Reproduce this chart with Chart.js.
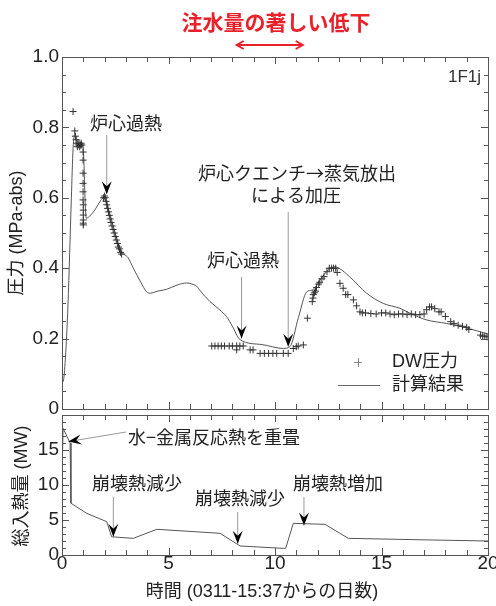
<!DOCTYPE html>
<html><head><meta charset="utf-8">
<script src="https://cdn.jsdelivr.net/npm/chart.js@4"></script>
<style>
html,body{margin:0;padding:0;background:#fff;}
#wrap{position:relative;width:496px;height:606px;}
canvas{position:absolute;left:0;top:0;}
</style></head>
<body><div id="wrap"><canvas id="c1" width="496" height="606"></canvas><canvas id="c2" width="496" height="606"></canvas></div>
<script>
// ---- data (days since 03/11 15:37) ----
const dwDays = [0.52,0.6,0.63,0.66,0.7,0.72,0.76,0.8,0.83,0.87,0.9,0.93,0.99,0.99,0.99,0.99,0.99,0.99,1.0,1.0,1.0,1.0,1.0,1.0,
 1.95,2.0,2.03,2.07,2.1,2.14,2.18,2.22,2.26,2.3,2.35,2.4,2.45,2.5,2.55,2.6,2.65,2.7,2.75,2.8,
 7.03,7.18,7.33,7.48,7.63,7.85,8.0,8.2,8.2,8.35,8.51,8.83,8.97,9.3,9.5,9.7,9.9,10.08,10.39,10.62,10.86,11.0,11.09,11.33,
 11.52,11.75,11.78,11.8,11.85,11.9,11.95,12.05,12.1,12.2,12.3,12.44,12.55,12.65,12.75,12.85,12.92,
 13.05,13.2,13.32,13.42,13.68,13.83,13.99,14.1,14.25,14.5,14.75,15.0,15.2,15.4,15.6,15.8,16.0,16.2,16.4,16.6,16.8,17.0,
 17.12,17.25,17.35,17.5,17.7,17.8,18.0,18.25,18.4,18.6,18.8,19.0,19.1,19.65,19.75,19.85,19.95];
const dwPressure = [0.845,0.79,0.775,0.765,0.755,0.745,0.75,0.755,0.745,0.75,0.755,0.75,0.73,0.707,0.67,0.641,0.617,0.594,0.58,0.565,0.551,0.537,0.528,0.523,
 0.60,0.605,0.60,0.59,0.58,0.57,0.56,0.55,0.54,0.53,0.52,0.51,0.50,0.49,0.48,0.47,0.46,0.455,0.445,0.44,
 0.179,0.179,0.179,0.179,0.179,0.179,0.179,0.168,0.179,0.179,0.179,0.168,0.168,0.158,0.158,0.158,0.158,0.158,0.158,0.158,0.172,0.177,0.179,0.182,
 0.258,0.305,0.315,0.325,0.33,0.335,0.345,0.355,0.36,0.37,0.376,0.39,0.40,0.40,0.40,0.40,0.388,
 0.357,0.343,0.325,0.325,0.31,0.293,0.276,0.273,0.273,0.271,0.27,0.273,0.273,0.27,0.268,0.27,0.27,0.268,0.27,0.268,0.268,0.27,
 0.282,0.29,0.29,0.285,0.276,0.276,0.263,0.248,0.243,0.238,0.235,0.232,0.226,0.21,0.207,0.207,0.205];

const calcDays = [0,0.05,0.16,0.28,0.44,0.52,0.6,0.7,0.83,0.98,1.03,1.08,1.14,1.3,1.5,1.69,1.85,2.02,2.2,2.5,2.8,3.1,3.35,3.7,3.97,4.13,4.5,4.91,5.4,5.85,6.1,6.32,6.5,6.95,7.42,7.73,8.0,8.36,9.4,10.39,10.7,11.1,11.49,11.75,12.1,12.5,12.8,13.0,13.5,14.3,15.08,15.87,16.34,17.12,18.06,19.0,20];
const calcPressure = [0.10,0.078,0.145,0.295,0.60,0.74,0.78,0.765,0.75,0.75,0.70,0.60,0.542,0.548,0.562,0.58,0.595,0.603,0.565,0.50,0.447,0.43,0.40,0.36,0.333,0.329,0.335,0.34,0.352,0.358,0.355,0.349,0.335,0.305,0.281,0.262,0.235,0.197,0.183,0.172,0.177,0.26,0.333,0.338,0.365,0.395,0.404,0.40,0.376,0.329,0.30,0.286,0.272,0.253,0.243,0.23,0.213];

const heatDays = [0,0.05,0.38,0.42,1.16,2.1,2.33,3.35,4.45,7.42,8.36,10.39,10.5,10.86,12.35,13.44,17.43,20];
const heatMW   = [11,18.1,16.0,7.4,5.95,4.76,2.6,2.38,3.67,3.1,1.29,0.95,0.95,4.52,4.38,2.38,2.14,2.0];

const xTickValues = [0,5,10,15,20];
const pressureTickLabels = ['0','0.2','0.4','0.6','0.8','1.0'];
const heatTickLabels = ['0','5','10','15',''];

const LAT = "'Liberation Sans', Arial, sans-serif";
const JP = "'Liberation Sans', 'Noto Sans CJK JP', sans-serif";
const CJK = "'Noto Sans CJK JP', sans-serif";
const FRAME = '#555';

function zip(a,b){return a.map((v,i)=>({x:v,y:b[i]}));}

function arrowHead(ctx, tx, ty, ang, color){
  const L=13, W=5, N=8;
  const c=Math.cos(ang), s=Math.sin(ang);
  ctx.save();
  ctx.fillStyle=color||'#000';
  ctx.beginPath();
  ctx.moveTo(tx,ty);
  ctx.lineTo(tx - L*c - W*s, ty - L*s + W*c);
  ctx.lineTo(tx - N*c, ty - N*s);
  ctx.lineTo(tx - L*c + W*s, ty - L*s - W*c);
  ctx.closePath();
  ctx.fill();
  ctx.restore();
}
function pointer(ctx, x0, y0, x1, y1){
  ctx.save();
  ctx.strokeStyle='#999'; ctx.lineWidth=1;
  ctx.beginPath(); ctx.moveTo(x0,y0); ctx.lineTo(x1,y1); ctx.stroke();
  ctx.restore();
  arrowHead(ctx, x1, y1, Math.atan2(y1-y0, x1-x0), '#000');
}
function text(ctx, str, x, y, opts){
  opts=opts||{};
  ctx.save();
  ctx.font=(opts.weight||'')+' '+(opts.size||18)+'px '+(opts.family||JP);
  ctx.fillStyle=opts.color||'#222';
  ctx.textAlign=opts.align||'center';
  ctx.textBaseline='middle';
  if(opts.rotate){ctx.translate(x,y);ctx.rotate(opts.rotate);ctx.fillText(str,0,0);}
  else ctx.fillText(str,x,y);
  ctx.restore();
}

function framePlugin(yMinorStep, yMajorStep){
  return {id:'frame', afterDatasetsDraw(chart){
    const ctx=chart.ctx, a=chart.chartArea, xs=chart.scales.x, ys=chart.scales.y;
    ctx.save();
    ctx.strokeStyle=FRAME; ctx.lineWidth=1;
    ctx.strokeRect(Math.round(a.left)+0.5, Math.round(a.top)+0.5, Math.round(a.right-a.left), Math.round(a.bottom-a.top));
    ctx.beginPath();
    for(let v=0; v<=20; v++){
      const p=Math.round(xs.getPixelForValue(v))+0.5;
      const len = (v%5===0)?7:5;
      ctx.moveTo(p,a.bottom); ctx.lineTo(p,a.bottom-len);
      ctx.moveTo(p,a.top); ctx.lineTo(p,a.top+len);
    }
    const n=Math.round((ys.max-ys.min)/yMinorStep);
    for(let i=0;i<=n;i++){
      const v=ys.min+i*yMinorStep;
      const p=Math.round(ys.getPixelForValue(v))+0.5;
      const major=Math.abs(v/yMajorStep-Math.round(v/yMajorStep))<1e-6;
      const len= major?7:4;
      ctx.moveTo(a.left,p); ctx.lineTo(a.left+len,p);
      ctx.moveTo(a.right,p); ctx.lineTo(a.right-len,p);
    }
    ctx.stroke();
    ctx.restore();
  }};
}

const annotTop = {id:'annotTop', afterDraw(chart){
  const ctx=chart.ctx, xs=chart.scales.x, ys=chart.scales.y;
  text(ctx,'注水量の著しい低下',276,22,{size:21,weight:'bold',color:'#e8212a',family:CJK});
  const xa=xs.getPixelForValue(8.2), xb=xs.getPixelForValue(11.3), ya=45;
  ctx.save(); ctx.strokeStyle='#e8212a'; ctx.lineWidth=2;
  ctx.beginPath(); ctx.moveTo(xa,ya); ctx.lineTo(xb,ya);
  ctx.moveTo(xa+7,ya-4); ctx.lineTo(xa,ya); ctx.lineTo(xa+7,ya+4);
  ctx.moveTo(xb-7,ya-4); ctx.lineTo(xb,ya); ctx.lineTo(xb-7,ya+4);
  ctx.stroke(); ctx.restore();
  text(ctx,'1F1j',481,77,{size:17,align:'right',family:LAT,color:'#333'});
  text(ctx,'圧力 (MPa-abs)',17,233,{size:18,rotate:-Math.PI/2});
  text(ctx,'炉心過熱',126,125);
  pointer(ctx, xs.getPixelForValue(2.1), 135, xs.getPixelForValue(2.1), ys.getPixelForValue(0.61));
  text(ctx,'炉心クエンチ→蒸気放出',297,173,{family:CJK});
  text(ctx,'による加圧',296,197);
  pointer(ctx, xs.getPixelForValue(10.62), 212, xs.getPixelForValue(10.62), ys.getPixelForValue(0.177));
  text(ctx,'炉心過熱',243,262);
  pointer(ctx, xs.getPixelForValue(8.43), 277, xs.getPixelForValue(8.43), ys.getPixelForValue(0.2));
  // legend
  ctx.save(); ctx.strokeStyle='#888'; ctx.lineWidth=1;
  ctx.beginPath(); ctx.moveTo(354,362.5); ctx.lineTo(362,362.5); ctx.moveTo(358.5,358); ctx.lineTo(358.5,367); ctx.stroke();
  ctx.strokeStyle='#666';
  ctx.beginPath(); ctx.moveTo(338,385.5); ctx.lineTo(380,385.5); ctx.stroke(); ctx.restore();
  text(ctx,'DW圧力',392,362,{align:'left'});
  text(ctx,'計算結果',392,385,{align:'left'});
}};

const annotBottom = {id:'annotBottom', afterDraw(chart){
  const ctx=chart.ctx, xs=chart.scales.x, ys=chart.scales.y;
  text(ctx,'総入熱量 (MW)',22,486,{size:18,rotate:-Math.PI/2});
  text(ctx,'時間 (0311-15:37からの日数)',262,592,{size:18});
  text(ctx,'水−金属反応熱を重畳',128,437,{align:'left',family:CJK});
  pointer(ctx,126,432,xs.getPixelForValue(0.3),ys.getPixelForValue(16.2));
  text(ctx,'崩壊熱減少',137,485);
  pointer(ctx,xs.getPixelForValue(2.41),497,xs.getPixelForValue(2.41),ys.getPixelForValue(2.6));
  text(ctx,'崩壊熱減少',240,500);
  pointer(ctx,xs.getPixelForValue(8.25),512,xs.getPixelForValue(8.25),ys.getPixelForValue(1.6));
  text(ctx,'崩壊熱増加',338,485);
  pointer(ctx,xs.getPixelForValue(11.36),497,xs.getPixelForValue(11.36),ys.getPixelForValue(4.2));
}};

const common = {animation:false, responsive:false, devicePixelRatio:1,
  plugins:{legend:{display:false}, tooltip:{enabled:false}}};

new Chart(document.getElementById('c1'), {
  type:'scatter',
  data:{datasets:[
    {label:'DW圧力', data:zip(dwDays,dwPressure), showLine:false, pointStyle:'cross', pointRadius:3.5, borderColor:'#333', borderWidth:1},
    {label:'計算結果', data:zip(calcDays,calcPressure), showLine:true, pointRadius:0, borderColor:'#555', borderWidth:1, cubicInterpolationMode:'monotone'}
  ]},
  options:Object.assign({}, common, {
    layout:{padding:{top:57,left:0,right:8,bottom:197}},
    scales:{
      x:{type:'linear',min:0,max:20,ticks:{display:false},grid:{display:false},border:{display:false},
         afterFit(s){s.height=0;s.paddingLeft=0;s.paddingRight=0;}},
      y:{type:'linear',min:0,max:1,ticks:{stepSize:0.2,padding:3,color:'#222',font:{family:LAT,size:19},
           callback:(v,i)=>pressureTickLabels[i]},
         grid:{display:false,drawTicks:false},border:{display:false},
         afterFit(s){s.width=62;s.paddingTop=0;s.paddingBottom=0;}}
    }
  }),
  plugins:[framePlugin(0.05,0.2), annotTop]
});

new Chart(document.getElementById('c2'), {
  type:'scatter',
  data:{datasets:[
    {label:'総入熱量', data:zip(heatDays,heatMW), showLine:true, pointRadius:0, borderColor:'#555', borderWidth:1, tension:0}
  ]},
  options:Object.assign({}, common, {
    layout:{padding:{top:415,left:0,right:8,bottom:0}},
    scales:{
      x:{type:'linear',min:0,max:20,afterBuildTicks(s){s.ticks=xTickValues.map(v=>({value:v}));},
         ticks:{padding:-3,color:'#222',font:{family:LAT,size:19},maxRotation:0,autoSkip:false},
         grid:{display:false,drawTicks:false},border:{display:false},
         afterFit(s){s.height=51;s.paddingLeft=0;s.paddingRight=0;}},
      y:{type:'linear',min:0,max:20,ticks:{stepSize:5,padding:3,color:'#222',font:{family:LAT,size:19},
           callback:(v,i)=>heatTickLabels[i]},
         grid:{display:false,drawTicks:false},border:{display:false},
         afterFit(s){s.width=62;s.paddingTop=0;s.paddingBottom=0;}}
    }
  }),
  plugins:[framePlugin(1,5), annotBottom]
});
</script></body></html>
